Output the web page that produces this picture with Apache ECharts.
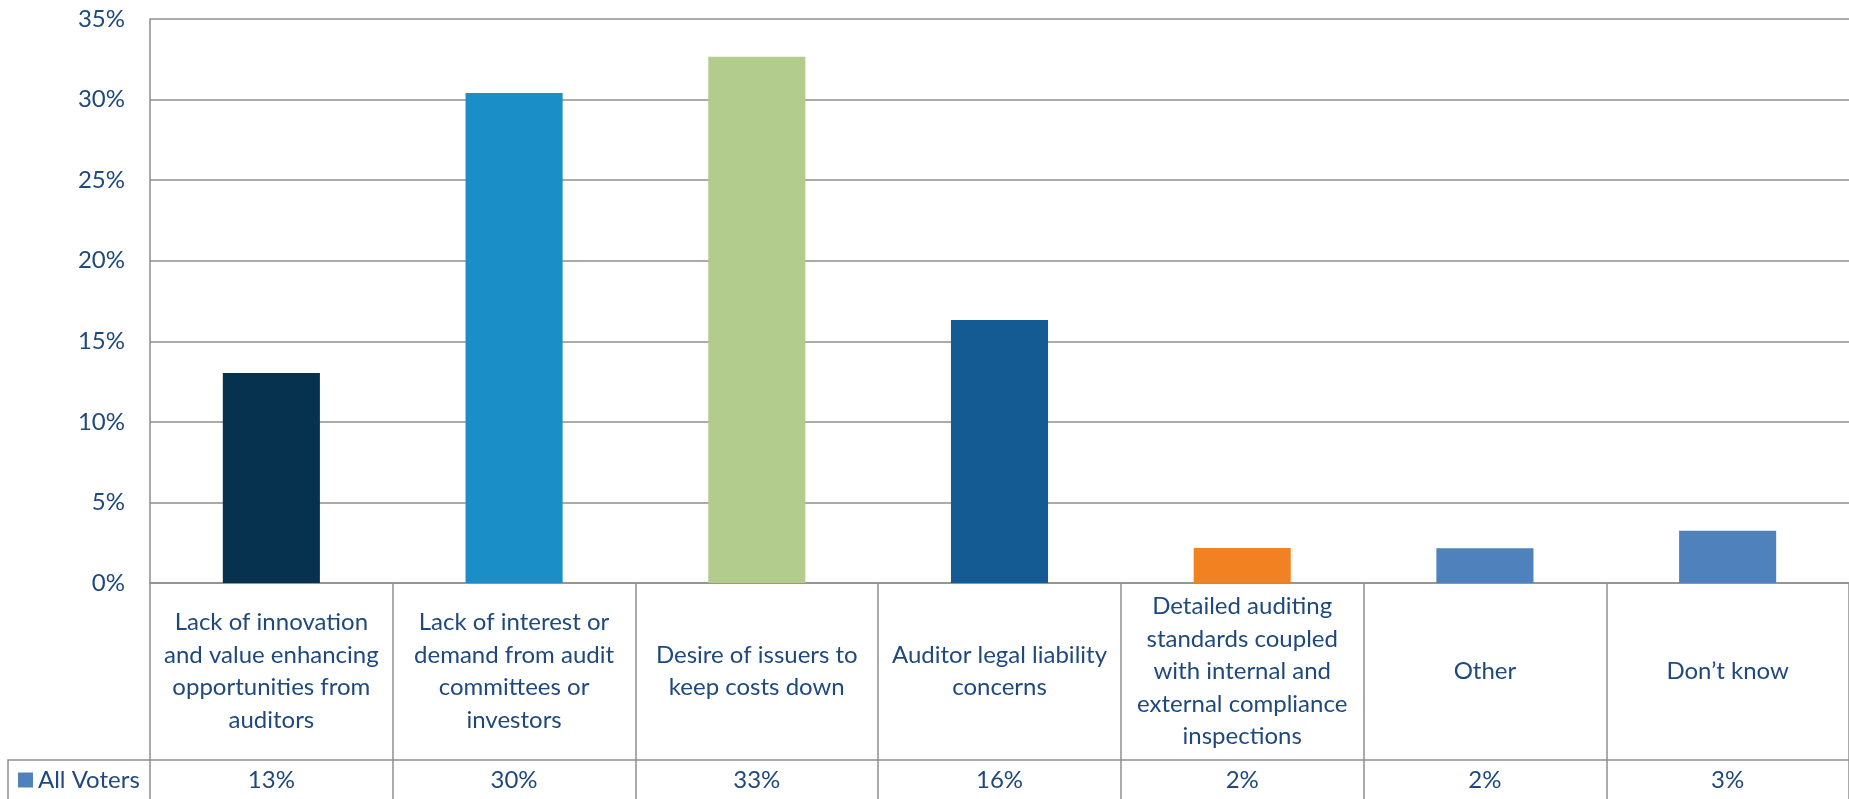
<!DOCTYPE html>
<html>
<head>
<meta charset="utf-8">
<title>Barriers to audit innovation</title>
<script src="https://cdn.jsdelivr.net/npm/echarts@6/dist/echarts.min.js"></script>
<style>
  html, body { margin: 0; padding: 0; background: #ffffff; }
  #chart { width: 1849px; height: 799px; }
</style>
</head>
<body>
<div id="chart"></div>
<script>
// Survey answers (category text, wrapped as in the table header)
const categories = [
  'Lack of innovation\nand value enhancing\nopportunities from\nauditors',
  'Lack of interest or\ndemand from audit\ncommittees or\ninvestors',
  'Desire of issuers to\nkeep costs down',
  'Auditor legal liability\nconcerns',
  'Detailed auditing\nstandards coupled\nwith internal and\nexternal compliance\ninspections',
  'Other',
  'Don\u2019t know'
];

// Share of all voters, in percent
const seriesName = 'All Voters';
const allVoters = [13.03, 30.41, 32.65, 16.32, 2.17, 2.15, 3.25];

// One fill per answer
const barColors = ['#07324F', '#1A8FC7', '#B2CC8E', '#145B93', '#F28221', '#4F81BD', '#4F81BD'];

// Value axis ticks
const yMin = 0, yMax = 35, yStep = 5;

const textColor = '#1F497D';
const lineColor = '#8E8E8E';
const font = 'Lato, "Open Sans", sans-serif';
const fontSize = 24;

const chart = echarts.init(document.getElementById('chart'), null, { renderer: 'canvas' });

const gridLeft = 150, gridTop = 19, gridHeight = 564;
const colWidth = 243.5;

chart.setOption({
  backgroundColor: '#ffffff',
  animation: false,
  textStyle: { fontFamily: font },
  grid: {
    left: gridLeft,
    top: gridTop,
    height: gridHeight,
    width: colWidth * categories.length
  },
  legend: {
    data: [seriesName],
    left: 18,
    top: 768,
    padding: 0,
    itemWidth: 15,
    itemHeight: 15,
    icon: 'rect',
    textStyle: { color: textColor, fontSize: fontSize, lineHeight: 24, fontFamily: font }
  },
  xAxis: [
    {
      type: 'category',
      data: categories,
      position: 'bottom',
      axisLine: { show: true, lineStyle: { color: lineColor, width: 1.5 } },
      axisTick: { show: true, length: 216, lineStyle: { color: lineColor, width: 1.5 } },
      axisLabel: {
        interval: 0,
        margin: 88.5,
        verticalAlign: 'middle',
        align: 'center',
        lineHeight: 32.5,
        fontSize: fontSize,
        color: textColor,
        fontFamily: font
      },
      splitLine: { show: false }
    },
    {
      type: 'category',
      data: categories,
      position: 'bottom',
      offset: 177,
      axisLine: { show: true, lineStyle: { color: lineColor, width: 1.5 } },
      axisTick: { show: false },
      axisLabel: {
        interval: 0,
        margin: 20,
        verticalAlign: 'middle',
        align: 'center',
        fontSize: fontSize,
        color: textColor,
        fontFamily: font,
        formatter: (v, i) => Math.round(allVoters[i]) + '%'
      },
      splitLine: { show: false }
    }
  ],
  yAxis: {
    type: 'value',
    min: yMin,
    max: yMax,
    interval: yStep,
    axisLine: { show: true, lineStyle: { color: lineColor, width: 1.5 } },
    axisTick: { show: false },
    axisLabel: {
      formatter: '{value}%',
      margin: 25,
      fontSize: fontSize,
      color: textColor,
      fontFamily: font
    },
    splitLine: { show: true, lineStyle: { color: lineColor, width: 1.5 } }
  },
  series: [
    {
      name: seriesName,
      type: 'bar',
      xAxisIndex: 0,
      barWidth: '40%',
      itemStyle: { color: '#4F81BD' },
      data: allVoters.map((v, i) => ({ value: v, itemStyle: { color: barColors[i] } }))
    }
  ],
  graphic: [
    {
      // Row-header cell border of the data table
      type: 'polyline',
      shape: { points: [[8, 800], [8, 760], [gridLeft, 760]] },
      style: { stroke: lineColor, lineWidth: 1.5, fill: null },
      silent: true
    }
  ]
});
</script>
</body>
</html>
